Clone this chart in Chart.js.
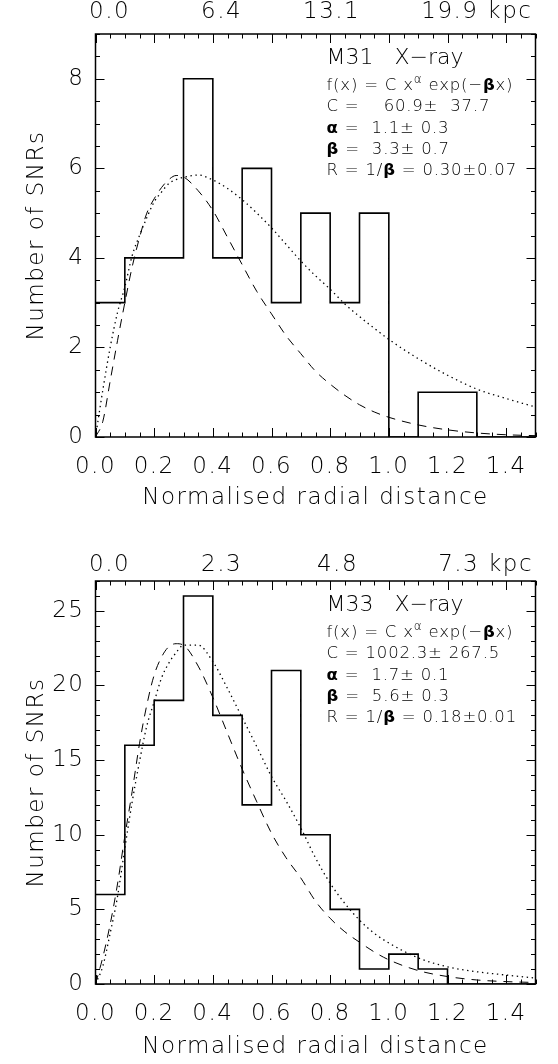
<!DOCTYPE html>
<html><head><meta charset="utf-8">
<script src="https://cdn.jsdelivr.net/npm/chart.js@4.4.1/dist/chart.umd.min.js"></script>
<style>
body{margin:0;background:#fff;width:558px;height:1064px;overflow:hidden;position:relative}
canvas{position:absolute;left:0}
</style>
</head><body>
<canvas id="m31" width="558" height="532" style="top:0"></canvas>
<canvas id="m33" width="558" height="532" style="top:532px"></canvas>
<script>
// histogram bin edges (normalised radial distance), last one closes the final bin
const binEdges = [0, 0.1, 0.2, 0.3, 0.4, 0.5, 0.6, 0.7, 0.8, 0.9, 1.0, 1.1, 1.2, 1.3, 1.4, 1.5];
const m31Counts = [3, 4, 4, 8, 4, 6, 3, 5, 3, 5, 0, 1, 1, 0, 0];
const m33Counts = [6, 16, 19, 26, 18, 12, 21, 10, 5, 1, 2, 1, 0, 0, 0];

// model curves at these x positions
const curveX = [0, 0.025, 0.05, 0.075, 0.1, 0.125, 0.15, 0.175, 0.2, 0.225, 0.25, 0.275, 0.3, 0.35,
  0.4, 0.45, 0.5, 0.55, 0.6, 0.65, 0.7, 0.75, 0.8, 0.85, 0.9, 0.95, 1.0, 1.1, 1.2, 1.3, 1.4, 1.5];
const m31Dashed = [0, 0.35, 1.25, 2.15, 3.0, 3.8, 4.45, 5.0, 5.32, 5.57, 5.75, 5.84, 5.81, 5.5,
  5.06, 4.46, 3.85, 3.25, 2.75, 2.26, 1.86, 1.47, 1.18, 0.93, 0.72, 0.56, 0.44, 0.27, 0.16, 0.09, 0.05, 0.03];
const m31Dotted = [0, 1.05, 2.0, 2.78, 3.35, 4.05, 4.5, 4.9, 5.25, 5.47, 5.66, 5.75, 5.8, 5.85,
  5.74, 5.55, 5.3, 5.0, 4.67, 4.3, 3.93, 3.6, 3.3, 2.97, 2.69, 2.43, 2.18, 1.75, 1.38, 1.07, 0.86, 0.67];
const m33Dashed = [0, 1.8, 4.0, 6.7, 9.9, 12.9, 16.1, 18.7, 20.7, 21.9, 22.6, 22.8, 22.7, 21.3,
  19.2, 16.8, 14.4, 12.2, 10.1, 8.45, 7.1, 5.55, 4.4, 3.5, 2.8, 2.15, 1.62, 0.9, 0.5, 0.27, 0.16, 0.1];
const m33Dotted = [0, 1.2, 3.4, 5.85, 9.1, 12.2, 14.9, 17.3, 18.9, 20.5, 21.5, 22.2, 22.7, 22.7,
  21.6, 19.8, 17.85, 15.9, 13.9, 12.25, 10.45, 8.45, 6.75, 5.4, 4.28, 3.4, 2.75, 1.75, 1.15, 0.82, 0.6, 0.4];

// axis labels
const xTicks = [0, 0.2, 0.4, 0.6, 0.8, 1.0, 1.2, 1.4];
const m31YTicks = [0, 2, 4, 6, 8];
const m33YTicks = [0, 5, 10, 15, 20, 25];
const m31KpcPos = [0.048, 0.43, 0.805, 1.30];
const m31KpcLabels = ['0.0', '6.4', '13.1', '19.9 kpc'];
const m33KpcPos = [0.048, 0.43, 0.825, 1.33];
const m33KpcLabels = ['0.0', '2.3', '4.8', '7.3 kpc'];

// fit annotations (*bold*, ^superscript^)
const m31Text = ['M31   X\u2212ray', 'f(x) = C x^\u03b1^ exp(\u2212*\u03b2*x)', 'C =    60.9\u00b1  37.7',
  '*\u03b1* =  1.1\u00b1 0.3', '*\u03b2* =  3.3\u00b1 0.7', 'R = 1/*\u03b2* = 0.30\u00b10.07'];
const m33Text = ['M33   X\u2212ray', 'f(x) = C x^\u03b1^ exp(\u2212*\u03b2*x)', 'C = 1002.3\u00b1 267.5',
  '*\u03b1* =  1.7\u00b1 0.1', '*\u03b2* =  5.6\u00b1 0.3', 'R = 1/*\u03b2* = 0.18\u00b10.01'];

const FONT = "'DejaVu Sans', sans-serif";
Chart.defaults.font.family = FONT;
Chart.defaults.font.size = 23;
Chart.defaults.font.weight = '200';
Chart.defaults.color = '#000';

function drawRich(ctx, str, x, y, size) {
  const parts = str.split(/(\*[^*]+\*|\^[^^]+\^)/).filter(Boolean);
  parts.forEach(p => {
    let t = p, font = `200 ${size}px ${FONT}`, dy = 0;
    if (p[0] === '*') { t = p.slice(1, -1); font = `bold ${size}px ${FONT}`; }
    else if (p[0] === '^') { t = p.slice(1, -1); font = `200 ${Math.round(size * 0.7)}px ${FONT}`; dy = -size * 0.4; }
    ctx.font = font;
    ctx.fillText(t, x, y + dy);
    x += ctx.measureText(t).width;
  });
}

// inward ticks on all four sides, the box, and the fit text
const frame = {
  id: 'frame',
  beforeDraw(chart) { chart.ctx.letterSpacing = '1.5px'; },
  afterDatasetsDraw(chart, args, opts) {
    const { ctx, chartArea: a, scales: { x, y } } = chart;
    ctx.save();
    ctx.strokeStyle = '#000';
    ctx.lineWidth = 1;
    ctx.beginPath();
    for (let i = 0; i <= 30; i++) {
      const v = i * 0.05;
      const len = (i % 4 === 0) ? 9 : 4.5;
      const px = Math.round(x.getPixelForValue(v)) + 0.5;
      ctx.moveTo(px, a.bottom); ctx.lineTo(px, a.bottom - len);
      ctx.moveTo(px, a.top); ctx.lineTo(px, a.top + len);
    }
    for (let v = 0; v <= opts.ymax + 1e-9; v += opts.yMinor) {
      const major = Math.abs(v / opts.yMajor - Math.round(v / opts.yMajor)) < 1e-6;
      const len = major ? 9 : 4.5;
      const py = Math.round(y.getPixelForValue(v)) + 0.5;
      ctx.moveTo(a.left, py); ctx.lineTo(a.left + len, py);
      ctx.moveTo(a.right, py); ctx.lineTo(a.right - len, py);
    }
    ctx.stroke();
    ctx.lineWidth = 1.5;
    ctx.strokeRect(a.left, a.top, a.width, a.height);

    ctx.fillStyle = '#000';
    ctx.textBaseline = 'middle';
    ctx.textAlign = 'left';
    const tx = a.left + 231;
    ctx.letterSpacing = '0px';
    drawRich(ctx, opts.text[0], tx, a.top + 24, 22);
    ctx.letterSpacing = '0.8px';
    const rows = [52, 73, 95, 116, 137];
    opts.text.slice(1).forEach((s, i) => drawRich(ctx, s, tx, a.top + rows[i], 16.5));
    ctx.restore();
  }
};

function makeChart(id, counts, dashed, dotted, cfg) {
  const H = 532;
  const hist = binEdges.map((x, i) => ({ x, y: counts[Math.min(i, counts.length - 1)] }));
  return new Chart(document.getElementById(id), {
    type: 'line',
    data: {
      datasets: [
        { data: hist, stepped: true, borderColor: '#000', borderWidth: 1.6, pointRadius: 0, xAxisID: 'x', yAxisID: 'y' },
        { data: curveX.map((x, i) => ({ x, y: dashed[i] })), borderColor: '#000', borderWidth: 1,
          borderDash: [9, 7], cubicInterpolationMode: 'monotone', pointRadius: 0, xAxisID: 'x', yAxisID: 'y' },
        { data: curveX.map((x, i) => ({ x, y: dotted[i] })), borderColor: '#000', borderWidth: 1.3,
          borderDash: [1.4, 3.6], cubicInterpolationMode: 'monotone', pointRadius: 0, xAxisID: 'x', yAxisID: 'y' }
      ]
    },
    options: {
      responsive: false,
      animation: false,
      layout: { padding: { left: 0, right: 22.5, top: 0, bottom: 0 } },
      plugins: {
        legend: { display: false },
        tooltip: { enabled: false },
        frame: { ymax: cfg.ymax, yMinor: cfg.yMinor, yMajor: cfg.yMajor, text: cfg.text }
      },
      scales: {
        x: {
          type: 'linear', position: 'bottom', min: 0, max: 1.5,
          grid: { display: false, drawTicks: false }, border: { display: false },
          ticks: { padding: 16, maxRotation: 0, autoSkip: false, callback: v => v.toFixed(1) },
          afterBuildTicks: s => { s.ticks = xTicks.map(v => ({ value: v })); },
          afterFit: s => { s.height = H - cfg.bottom; },
          title: { display: true, text: 'Normalised radial distance', padding: { top: 0, bottom: cfg.titlePad } }
        },
        x2: {
          type: 'linear', position: 'top', min: 0, max: 1.5,
          grid: { display: false, drawTicks: false }, border: { display: false },
          ticks: { padding: cfg.kpcPad, maxRotation: 0, autoSkip: false, callback: (v, i) => cfg.kpcLabels[i] },
          afterBuildTicks: s => { s.ticks = cfg.kpcPos.map(v => ({ value: v })); },
          afterFit: s => { s.height = cfg.top; }
        },
        y: {
          type: 'linear', min: 0, max: cfg.ymax,
          grid: { display: false, drawTicks: false }, border: { display: false },
          ticks: { padding: 11, autoSkip: false },
          afterBuildTicks: s => { s.ticks = cfg.yTicks.map(v => ({ value: v })); },
          afterFit: s => { s.width = 95.5; },
          title: { display: true, text: 'Number of SNRs', padding: { top: 23, bottom: 0 } }
        }
      }
    },
    plugins: [frame]
  });
}

makeChart('m31', m31Counts, m31Dashed, m31Dotted, {
  top: 34, bottom: 437, titlePad: 20, kpcPad: 8, ymax: 9, yMinor: 0.5, yMajor: 2,
  yTicks: m31YTicks, kpcPos: m31KpcPos, kpcLabels: m31KpcLabels, text: m31Text
});
makeChart('m33', m33Counts, m33Dashed, m33Dotted, {
  top: 49, bottom: 452, titlePad: 3, kpcPad: 2, ymax: 27, yMinor: 1, yMajor: 5,
  yTicks: m33YTicks, kpcPos: m33KpcPos, kpcLabels: m33KpcLabels, text: m33Text
});
</script>
</body></html>
